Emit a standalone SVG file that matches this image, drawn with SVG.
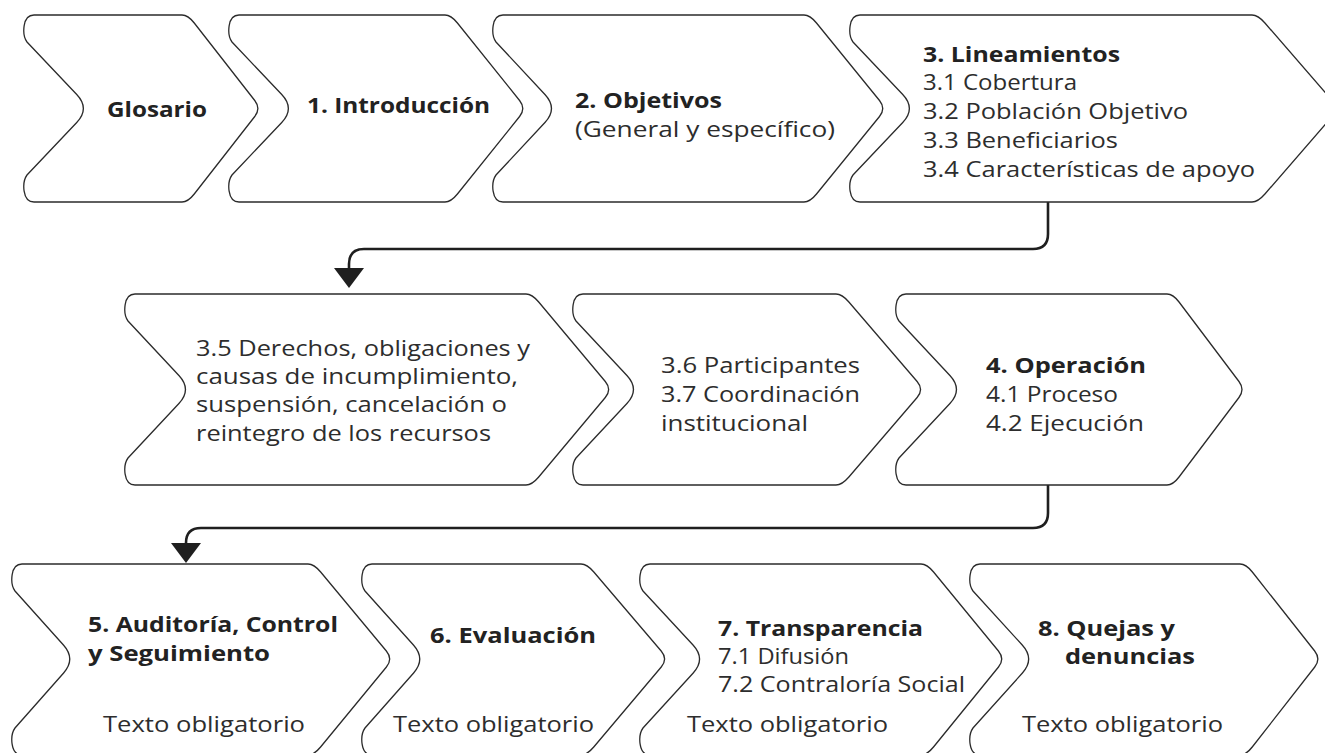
<svg xmlns="http://www.w3.org/2000/svg" width="1325" height="753" viewBox="0 0 1325 753">
<defs>
<style>
.shape{fill:#fff;stroke:#2b2b2b;stroke-width:1.3}
.conn{fill:none;stroke:#1f1f1f;stroke-width:2.6}
text{font-family:"Open Sans","Noto Sans","Liberation Sans",sans-serif;font-size:22px;fill:#2d2d2d}
.b{font-weight:700;fill:#222}
</style>
<marker id="arr" viewBox="0 0 20 30" refX="0" refY="15" markerWidth="20" markerHeight="30" markerUnits="userSpaceOnUse" orient="auto">
<polygon points="0,0 20,15 0,30" fill="#1f1f1f"/>
</marker>
</defs>
<rect width="1325" height="753" fill="#fff"/>

<g id="connectors">
<path class="conn" d="M1048,202 V234 Q1048,249 1033,249 H364 Q349,249 349,264 V268" marker-end="url(#arr)"/>
<path class="conn" d="M1048,485 V513 Q1048,528 1033,528 H201 Q186,528 186,543" marker-end="url(#arr)"/>
</g>

<g id="n-glosario">
<path class="shape" d="M34,15 L182,15 Q188,15 194.25,23 L254.75,100.5 Q261,108.5 254.75,116.5 L194.25,194 Q188,202 182,202 L34,202 C22,202 22,182 27,175 L76.74,122.5 Q90,108.5 76.74,94.5 L27,42 C22,35 22,15 34,15 Z"/>
<text class="b" x="107" y="117" textLength="100" lengthAdjust="spacingAndGlyphs">Glosario</text>
</g>

<g id="n-introduccion">
<path class="shape" d="M239,15 L445,15 Q451,15 457.42,23 L519.58,100.5 Q526,108.5 519.58,116.5 L457.42,194 Q451,202 445,202 L239,202 C227,202 227,182 232,175 L281.74,122.5 Q295,108.5 281.74,94.5 L232,42 C227,35 227,15 239,15 Z"/>
<text class="b" x="307" y="113" textLength="183" lengthAdjust="spacingAndGlyphs">1. Introducción</text>
</g>

<g id="n-objetivos">
<path class="shape" d="M503,15 L804,15 Q810,15 816.5,23 L879.5,100.5 Q886,108.5 879.5,116.5 L816.5,194 Q810,202 804,202 L503,202 C491,202 491,182 496,175 L544.95,122.5 Q558,108.5 544.95,94.5 L496,42 C491,35 491,15 503,15 Z"/>
<text class="b" x="575" y="108" textLength="147" lengthAdjust="spacingAndGlyphs">2. Objetivos</text>
<text x="575" y="137" textLength="260" lengthAdjust="spacingAndGlyphs">(General y específico)</text>
</g>

<g id="n-lineamientos">
<path class="shape" d="M860,15 L1252,15 Q1258,15 1264.93,23 L1332.07,100.5 Q1339,108.5 1332.07,116.5 L1264.93,194 Q1258,202 1252,202 L860,202 C848,202 848,182 853,175 L902.74,122.5 Q916,108.5 902.74,94.5 L853,42 C848,35 848,15 860,15 Z"/>
<text class="b" x="923" y="62" textLength="197" lengthAdjust="spacingAndGlyphs">3. Lineamientos</text>
<text x="923" y="90" textLength="154" lengthAdjust="spacingAndGlyphs">3.1 Cobertura</text>
<text x="923" y="119" textLength="265" lengthAdjust="spacingAndGlyphs">3.2 Población Objetivo</text>
<text x="923" y="148" textLength="195" lengthAdjust="spacingAndGlyphs">3.3 Beneficiarios</text>
<text x="923" y="177" textLength="332" lengthAdjust="spacingAndGlyphs">3.4 Características de apoyo</text>
</g>

<g id="n-derechos">
<path class="shape" d="M135,294 L526,294 Q532,294 538.7,302 L605.3,381.5 Q612,389.5 605.3,397.5 L538.7,477 Q532,485 526,485 L135,485 C123,485 123,465 128,458 L178.92,403.5 Q192,389.5 178.92,375.5 L128,321 C123,314 123,294 135,294 Z"/>
<text x="196" y="356" textLength="334" lengthAdjust="spacingAndGlyphs">3.5 Derechos, obligaciones y</text>
<text x="196" y="384" textLength="322" lengthAdjust="spacingAndGlyphs">causas de incumplimiento,</text>
<text x="196" y="412" textLength="311" lengthAdjust="spacingAndGlyphs">suspensión, cancelación o</text>
<text x="196" y="441" textLength="295" lengthAdjust="spacingAndGlyphs">reintegro de los recursos</text>
</g>

<g id="n-participantes">
<path class="shape" d="M583,294 L836,294 Q842,294 848.87,302 L917.13,381.5 Q924,389.5 917.13,397.5 L848.87,477 Q842,485 836,485 L583,485 C571,485 571,465 576,458 L626.92,403.5 Q640,389.5 626.92,375.5 L576,321 C571,314 571,294 583,294 Z"/>
<text x="661" y="373" textLength="199" lengthAdjust="spacingAndGlyphs">3.6 Participantes</text>
<text x="661" y="402" textLength="199" lengthAdjust="spacingAndGlyphs">3.7 Coordinación</text>
<text x="661" y="431" textLength="147" lengthAdjust="spacingAndGlyphs">institucional</text>
</g>

<g id="n-operacion">
<path class="shape" d="M906,294 L1167,294 Q1173,294 1179.03,302 L1238.97,381.5 Q1245,389.5 1238.97,397.5 L1179.03,477 Q1173,485 1167,485 L906,485 C894,485 894,465 899,458 L949.92,403.5 Q963,389.5 949.92,375.5 L899,321 C894,314 894,294 906,294 Z"/>
<text class="b" x="986" y="373" textLength="160" lengthAdjust="spacingAndGlyphs">4. Operación</text>
<text x="986" y="402" textLength="132" lengthAdjust="spacingAndGlyphs">4.1 Proceso</text>
<text x="986" y="431" textLength="158" lengthAdjust="spacingAndGlyphs">4.2 Ejecución</text>
</g>

<g id="n-auditoria">
<path class="shape" d="M22,564 L308,564 Q314,564 320.65,572 L386.35,651 Q393,659 386.42,667 L320.58,747 Q314,755 308,755 L22,755 C10,755 10,735 15,728 L63.62,673 Q76,659 63.44,645 L15,591 C10,584 10,564 22,564 Z"/>
<text class="b" x="88" y="632" textLength="250" lengthAdjust="spacingAndGlyphs">5. Auditoría, Control</text>
<text class="b" x="88" y="661" textLength="182" lengthAdjust="spacingAndGlyphs">y Seguimiento</text>
<text x="103" y="732" textLength="202" lengthAdjust="spacingAndGlyphs">Texto obligatorio</text>
</g>

<g id="n-evaluacion">
<path class="shape" d="M372,564 L581,564 Q587,564 593.82,572 L661.18,651 Q668,659 661.25,667 L593.75,747 Q587,755 581,755 L372,755 C360,755 360,735 365,728 L413.62,673 Q426,659 413.44,645 L365,591 C360,584 360,564 372,564 Z"/>
<text class="b" x="430" y="643" textLength="166" lengthAdjust="spacingAndGlyphs">6. Evaluación</text>
<text x="393" y="732" textLength="201" lengthAdjust="spacingAndGlyphs">Texto obligatorio</text>
</g>

<g id="n-transparencia">
<path class="shape" d="M650,564 L921,564 Q927,564 933.57,572 L998.43,651 Q1005,659 998.5,667 L933.5,747 Q927,755 921,755 L650,755 C638,755 638,735 643,728 L693.22,673 Q706,659 693.03,645 L643,591 C638,584 638,564 650,564 Z"/>
<text class="b" x="718" y="636" textLength="205" lengthAdjust="spacingAndGlyphs">7. Transparencia</text>
<text x="718" y="664" textLength="131" lengthAdjust="spacingAndGlyphs">7.1 Difusión</text>
<text x="718" y="692" textLength="247" lengthAdjust="spacingAndGlyphs">7.2 Contraloría Social</text>
<text x="687" y="732" textLength="201" lengthAdjust="spacingAndGlyphs">Texto obligatorio</text>
</g>

<g id="n-quejas">
<path class="shape" d="M980,564 L1240,564 Q1246,564 1252.32,572 L1314.68,651 Q1321,659 1314.75,667 L1252.25,747 Q1246,755 1240,755 L980,755 C968,755 968,735 973,728 L1022.42,673 Q1035,659 1022.24,645 L973,591 C968,584 968,564 980,564 Z"/>
<text class="b" x="1038" y="636" textLength="137" lengthAdjust="spacingAndGlyphs">8. Quejas y</text>
<text class="b" x="1065" y="664" textLength="130" lengthAdjust="spacingAndGlyphs">denuncias</text>
<text x="1022" y="732" textLength="201" lengthAdjust="spacingAndGlyphs">Texto obligatorio</text>
</g>
</svg>
